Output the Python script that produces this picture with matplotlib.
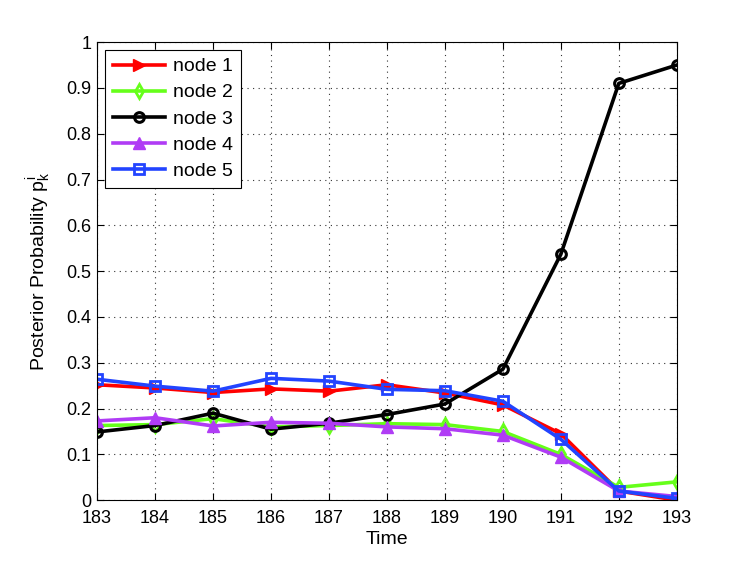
import matplotlib
matplotlib.use("Agg")
import matplotlib.pyplot as plt

plt.rcParams['font.family'] = ['Liberation Sans', 'DejaVu Sans']
plt.rcParams['mathtext.fontset'] = 'custom'
plt.rcParams['mathtext.rm'] = 'Liberation Sans'
plt.rcParams['mathtext.it'] = 'Liberation Sans'

time = [183, 184, 185, 186, 187, 188, 189, 190, 191, 192, 193]
node1 = [0.252, 0.245, 0.235, 0.243, 0.238, 0.252, 0.234, 0.208, 0.145, 0.020, 0.000]
node2 = [0.163, 0.165, 0.178, 0.160, 0.163, 0.167, 0.165, 0.150, 0.100, 0.028, 0.040]
node3 = [0.149, 0.163, 0.190, 0.155, 0.168, 0.187, 0.210, 0.286, 0.537, 0.910, 0.950]
node4 = [0.173, 0.180, 0.162, 0.170, 0.168, 0.160, 0.156, 0.142, 0.094, 0.020, 0.008]
node5 = [0.264, 0.249, 0.238, 0.266, 0.260, 0.242, 0.239, 0.216, 0.133, 0.020, 0.004]

fig = plt.figure(figsize=(7.47, 5.62), dpi=100)
ax = fig.add_axes([0.13, 0.11, 0.776, 0.815])

lw = 2.6
ax.plot(time, node1, color='#ff0000', marker='>', markersize=8, lw=lw, label='node 1')
ax.plot(time, node2, color='#66ff1a', marker='d', markersize=7.5, lw=lw,
        markerfacecolor='none', markeredgewidth=2, label='node 2')
ax.plot(time, node3, color='black', marker='o', markersize=7, lw=lw,
        markerfacecolor='none', markeredgewidth=2.2, label='node 3')
ax.plot(time, node4, color='#b03cf5', marker='^', markersize=9, lw=lw, label='node 4')
ax.plot(time, node5, color='#2244ff', marker='s', markersize=6.5, lw=lw,
        markerfacecolor='none', markeredgewidth=2, label='node 5')

ax.set_xlim(183, 193)
ax.set_ylim(0, 1)
ax.set_xticks(time)
ax.set_yticks([i / 10 for i in range(11)])
ax.set_yticklabels(['0', '0.1', '0.2', '0.3', '0.4', '0.5', '0.6', '0.7', '0.8', '0.9', '1'])
ax.tick_params(direction='in', top=True, right=True, labelsize=13, length=5)
ax.tick_params(axis='x', pad=7)
ax.tick_params(axis='y', pad=4)
ax.grid(True, linestyle=(0, (1, 4)), color='#333333', lw=0.8)
ax.set_xlabel('Time', fontsize=14, labelpad=3)
ax.set_ylabel('Posterior Probability $p_k^i$', fontsize=14, labelpad=10)

leg = ax.legend(loc='upper left', fontsize=14, fancybox=False, edgecolor='black',
                framealpha=1, handlelength=2.7, borderaxespad=0.4, labelspacing=0.44,
                handletextpad=0.4, borderpad=0.4)
leg.get_frame().set_linewidth(0.8)

fig.savefig('out.png', dpi=100)
